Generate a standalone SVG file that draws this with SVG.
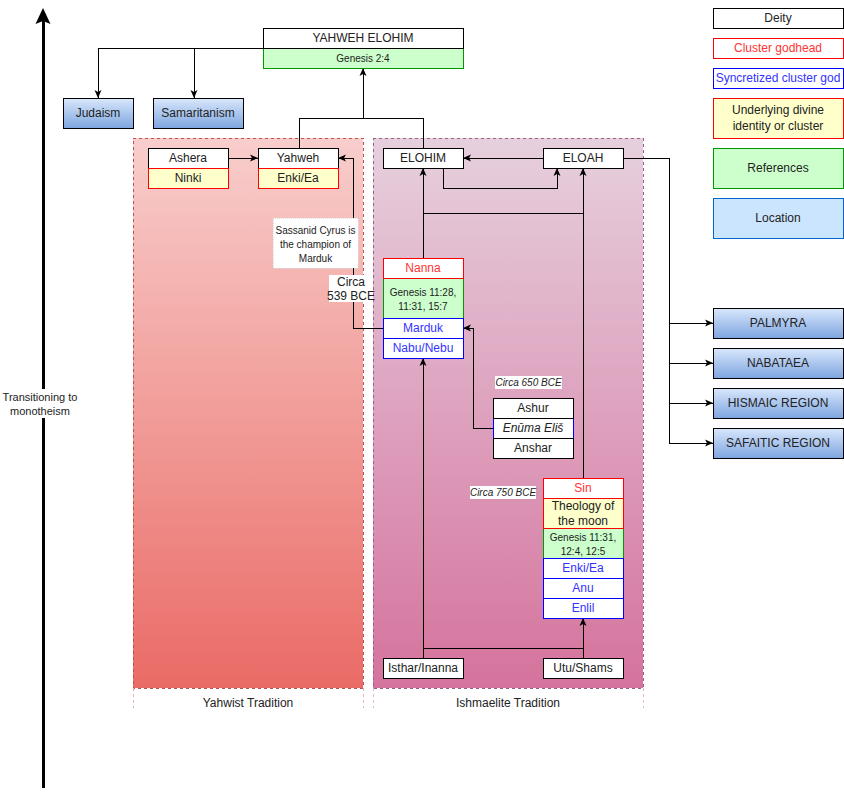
<svg xmlns="http://www.w3.org/2000/svg" width="844" height="798" viewBox="0 0 844 798">
<style>
text{font-family:"Liberation Sans",Arial,sans-serif;font-size:12px;fill:#222;text-anchor:middle}
rect,line{shape-rendering:crispEdges}
.s10{font-size:10px}
.it{font-style:italic}
.red{fill:#ff3333}
.blue{fill:#3333ff}
.bx{fill:#fff;stroke:#000;stroke-width:1}
.rb{fill:#fff;stroke:#ff0000;stroke-width:1}
.bb{fill:#fff;stroke:#0000ff;stroke-width:1}
.yb{fill:#ffffcc;stroke:#ff0000;stroke-width:1}
.gb{fill:#ccffcc;stroke:#009900;stroke-width:1}
.loc{fill:url(#gLoc);stroke:#000;stroke-width:1}
.ln{fill:none;stroke:#000;stroke-width:1;shape-rendering:crispEdges}
.arr{marker-end:url(#ah)}
</style>
<defs>
<linearGradient id="gLoc" x1="0" y1="0" x2="0" y2="1"><stop offset="0" stop-color="#dae8fc"/><stop offset="1" stop-color="#7ea6e0"/></linearGradient>
<linearGradient id="gL" x1="0" y1="0" x2="0" y2="1"><stop offset="0" stop-color="#f8cecc"/><stop offset="1" stop-color="#ea6b66"/></linearGradient>
<linearGradient id="gR" x1="0" y1="0" x2="0" y2="1"><stop offset="0" stop-color="#e6d0de"/><stop offset="1" stop-color="#d5739d"/></linearGradient>
<marker id="ah" markerUnits="userSpaceOnUse" markerWidth="10" markerHeight="8" viewBox="0 0 10 8" refX="9" refY="4" orient="auto"><path d="M1,0.5 L9,4 L1,7.5 L3,4 Z" fill="#000" style="shape-rendering:auto"/></marker>
</defs>
<rect width="844" height="798" fill="#fff"/>

<g id="axis">
<line x1="43" y1="788" x2="43" y2="18" stroke="#000" stroke-width="3"/>
<polygon points="43,8 50.5,24 43,21 35.5,24" fill="#000"/>
<rect x="2" y="389" width="80" height="29" fill="#fff"/>
<text x="40" y="401" style="font-size:11px">Transitioning to</text>
<text x="40" y="415" style="font-size:11px">monotheism</text>
</g>

<g id="yahwist-lane">
<rect x="133" y="138" width="230" height="550" fill="url(#gL)" stroke="#b85450" stroke-dasharray="3,3"/>
<line x1="133" y1="688" x2="133" y2="708" stroke="#f0b0b0" stroke-dasharray="3,3"/>
<line x1="363" y1="688" x2="363" y2="708" stroke="#f0b0b0" stroke-dasharray="3,3"/>
<text x="248" y="707">Yahwist Tradition</text>
</g>
<g id="ishmaelite-lane">
<rect x="373" y="138" width="270" height="550" fill="url(#gR)" stroke="#996185" stroke-dasharray="3,3"/>
<line x1="373" y1="688" x2="373" y2="708" stroke="#e0b8d0" stroke-dasharray="3,3"/>
<line x1="643" y1="688" x2="643" y2="708" stroke="#e0b8d0" stroke-dasharray="3,3"/>
<text x="508" y="707">Ishmaelite Tradition</text>
</g>

<g id="connectors">
<path class="ln arr" d="M263,48 H98 V98"/>
<path class="ln arr" d="M194,48 V98"/>
<path class="ln arr" d="M299,148 V118 H363 V68"/>
<path class="ln" d="M423,148 V118 H363"/>
<path class="ln arr" d="M228,158 H258"/>
<path class="ln arr" d="M383,328 H353 V158 H338"/>
<path class="ln arr" d="M543,158 H463"/>
<path class="ln arr" d="M443,168 V188 H557 V168"/>
<path class="ln arr" d="M423,258 V168"/>
<path class="ln arr" d="M583,478 V168"/>
<path class="ln" d="M583,213 H423"/>
<path class="ln arr" d="M493,428 H473 V328 H463"/>
<path class="ln arr" d="M423,658 V358"/>
<path class="ln arr" d="M583,658 V618"/>
<path class="ln" d="M423,648 H583"/>
<path class="ln arr" d="M623,158 H669 V443 H713"/>
<path class="ln arr" d="M669,323 H713"/>
<path class="ln arr" d="M669,363 H713"/>
<path class="ln arr" d="M669,403 H713"/>
</g>

<g id="yahweh-elohim">
<rect class="gb" x="263" y="48" width="200" height="20"/>
<rect class="bx" x="263" y="28" width="200" height="20"/>
<text x="363" y="42">YAHWEH ELOHIM</text>
<text class="s10" x="363" y="61.5">Genesis 2:4</text>
</g>
<g id="judaism"><rect class="loc" x="63" y="98" width="70" height="30"/><text x="98" y="117">Judaism</text></g>
<g id="samaritanism"><rect class="loc" x="153" y="98" width="90" height="30"/><text x="198" y="117">Samaritanism</text></g>

<g id="ashera">
<rect class="bx" x="148" y="148" width="80" height="20"/><text x="188" y="162">Ashera</text>
<rect class="yb" x="148" y="168" width="80" height="20"/><text x="188" y="182">Ninki</text>
</g>
<g id="yahweh">
<rect class="bx" x="258" y="148" width="80" height="20"/><text x="298" y="162">Yahweh</text>
<rect class="yb" x="258" y="168" width="80" height="20"/><text x="298" y="182">Enki/Ea</text>
</g>
<g id="label-cyrus">
<rect x="273" y="218" width="85" height="50" fill="#fff" stroke="#ddd" stroke-dasharray="1,1"/>
<text class="s10" x="315.5" y="233.5">Sassanid Cyrus is</text>
<text class="s10" x="315.5" y="247.5">the champion of</text>
<text class="s10" x="315.5" y="261.5">Marduk</text>
</g>
<g id="label-539">
<rect x="329" y="275" width="44" height="27" fill="#fff"/>
<text x="351" y="286">Circa</text>
<text x="351" y="299.5">539 BCE</text>
</g>

<g id="elohim"><rect class="bx" x="383" y="148" width="80" height="20"/><text x="423" y="162">ELOHIM</text></g>
<g id="eloah"><rect class="bx" x="543" y="148" width="80" height="20"/><text x="583" y="162">ELOAH</text></g>

<g id="nanna">
<rect class="gb" x="383" y="278" width="80" height="40"/>
<rect class="rb" x="383" y="258" width="80" height="20"/><text class="red" x="423" y="272">Nanna</text>
<text class="s10" x="423" y="295.5">Genesis 11:28,</text>
<text class="s10" x="423" y="309.5">11:31, 15:7</text>
<rect class="bb" x="383" y="318" width="80" height="20"/><text class="blue" x="423" y="332">Marduk</text>
<rect class="bb" x="383" y="338" width="80" height="20"/><text class="blue" x="423" y="352">Nabu/Nebu</text>
</g>

<g id="label-650">
<rect x="495" y="376" width="67" height="13" fill="#fff"/>
<text class="s10 it" x="528.5" y="386">Circa 650 BCE</text>
</g>
<g id="ashur">
<rect x="493" y="418" width="80" height="20" fill="#fff" stroke="#0000ff"/><text class="it" x="533" y="432">Enūma Eliš</text>
<rect class="bx" x="493" y="398" width="80" height="20"/><text x="533" y="412">Ashur</text>
<rect class="bx" x="493" y="438" width="80" height="20"/><text x="533" y="452">Anshar</text>
</g>

<g id="label-750">
<rect x="470" y="486" width="66" height="13" fill="#fff"/>
<text class="s10 it" x="503" y="496">Circa 750 BCE</text>
</g>
<g id="sin">
<rect class="gb" x="543" y="528" width="80" height="30"/>
<rect class="rb" x="543" y="478" width="80" height="20"/><text class="red" x="583" y="492">Sin</text>
<rect class="yb" x="543" y="498" width="80" height="30"/>
<text x="583" y="510">Theology of</text>
<text x="583" y="524.5">the moon</text>
<text class="s10" x="583" y="540.5">Genesis 11:31,</text>
<text class="s10" x="583" y="554.5">12:4, 12:5</text>
<rect class="bb" x="543" y="558" width="80" height="20"/><text class="blue" x="583" y="572">Enki/Ea</text>
<rect class="bb" x="543" y="578" width="80" height="20"/><text class="blue" x="583" y="592">Anu</text>
<rect class="bb" x="543" y="598" width="80" height="20"/><text class="blue" x="583" y="612">Enlil</text>
</g>

<g id="isthar"><rect class="bx" x="383" y="658" width="80" height="20"/><text x="423" y="672">Isthar/Inanna</text></g>
<g id="utu"><rect class="bx" x="543" y="658" width="80" height="20"/><text x="583" y="672">Utu/Shams</text></g>

<g id="palmyra"><rect class="loc" x="713" y="308" width="130" height="30"/><text x="778" y="327">PALMYRA</text></g>
<g id="nabataea"><rect class="loc" x="713" y="348" width="130" height="30"/><text x="778" y="367">NABATAEA</text></g>
<g id="hismaic"><rect class="loc" x="713" y="388" width="130" height="30"/><text x="778" y="407">HISMAIC REGION</text></g>
<g id="safaitic"><rect class="loc" x="713" y="428" width="130" height="30"/><text x="778" y="447">SAFAITIC REGION</text></g>

<g id="legend">
<rect class="bx" x="713" y="8" width="130" height="20"/><text x="778" y="22">Deity</text>
<rect class="rb" x="713" y="38" width="130" height="20"/><text class="red" x="778" y="52">Cluster godhead</text>
<rect class="bb" x="713" y="68" width="130" height="20"/><text class="blue" x="778" y="82">Syncretized cluster god</text>
<rect class="yb" x="713" y="98" width="130" height="40"/><text x="778" y="114">Underlying divine</text><text x="778" y="130">identity or cluster</text>
<rect class="gb" x="713" y="148" width="130" height="40"/><text x="778" y="172">References</text>
<rect x="713" y="198" width="130" height="40" fill="#cce5ff" stroke="#0066cc"/><text x="778" y="222">Location</text>
</g>
</svg>
